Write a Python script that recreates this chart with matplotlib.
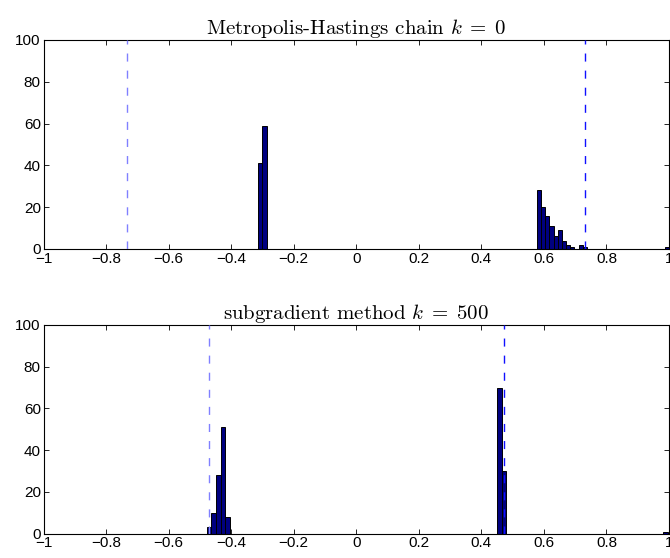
import matplotlib
matplotlib.use("Agg")
from matplotlib import pyplot as plt

plt.rcParams['font.family'] = ['Liberation Sans', 'DejaVu Sans']
plt.rcParams['mathtext.fontset'] = 'cm'

# top histogram: Metropolis-Hastings chain, k = 0
mh_width = 0.0134
mh_centers = [-0.3068, -0.2934,
              0.584, 0.597, 0.611, 0.624, 0.638, 0.651, 0.665, 0.678, 0.691, 0.705, 0.718, 0.732,
              0.993]
mh_counts = [41, 59,
             28, 20, 16, 11, 6, 9, 4, 2, 1, 0, 2, 1,
             1]
mh_lines = [-0.733, 0.733]

# bottom histogram: subgradient method, k = 500
sg_width = 0.015
sg_centers = [-0.471, -0.456, -0.441, -0.426, -0.411,
              0.4575, 0.4725,
              0.988]
sg_counts = [3, 10, 28, 51, 8,
             70, 30,
             1]
sg_lines = [-0.471, 0.473]

xticks = [-1, -0.8, -0.6, -0.4, -0.2, 0, 0.2, 0.4, 0.6, 0.8, 1]
xticklabels = ['\u22121', '\u22120.8', '\u22120.6', '\u22120.4', '\u22120.2',
               '0', '0.2', '0.4', '0.6', '0.8', '1']
yticks = [0, 20, 40, 60, 80, 100]

fig = plt.figure(figsize=(6.7, 5.58), dpi=100)
ax1 = fig.add_axes([0.065, 0.5538, 0.9335, 0.3746])
ax2 = fig.add_axes([0.065, 0.0436, 0.9335, 0.374])

panels = [
    (ax1, mh_centers, mh_counts, mh_width, mh_lines, r'Metropolis-Hastings chain $k\;=\;0$'),
    (ax2, sg_centers, sg_counts, sg_width, sg_lines, r'subgradient method $k\;=\;500$'),
]

for ax, c, n, w, lines, title in panels:
    ax.bar(c, n, width=w, color='#000080', edgecolor='black', linewidth=0.7, zorder=2)
    ax.axvline(lines[0], color='#8080ff', lw=1.0, dashes=(5.8, 6.5), zorder=3)
    ax.axvline(lines[1], color='#1010ff', lw=1.0, dashes=(5.8, 6.5), zorder=3)
    ax.set_xlim(-1, 1)
    ax.set_ylim(0, 100)
    ax.set_xticks(xticks)
    ax.set_xticklabels(xticklabels)
    ax.set_yticks(yticks)
    ax.tick_params(direction='in', length=3.6, width=0.6, top=True, right=True,
                   labelsize=11, pad=2)
    for s in ax.spines.values():
        s.set_linewidth(0.8)
    ax.set_title(title, fontsize=15, family='cmr10', pad=4)

fig.savefig('out.png', dpi=100)
